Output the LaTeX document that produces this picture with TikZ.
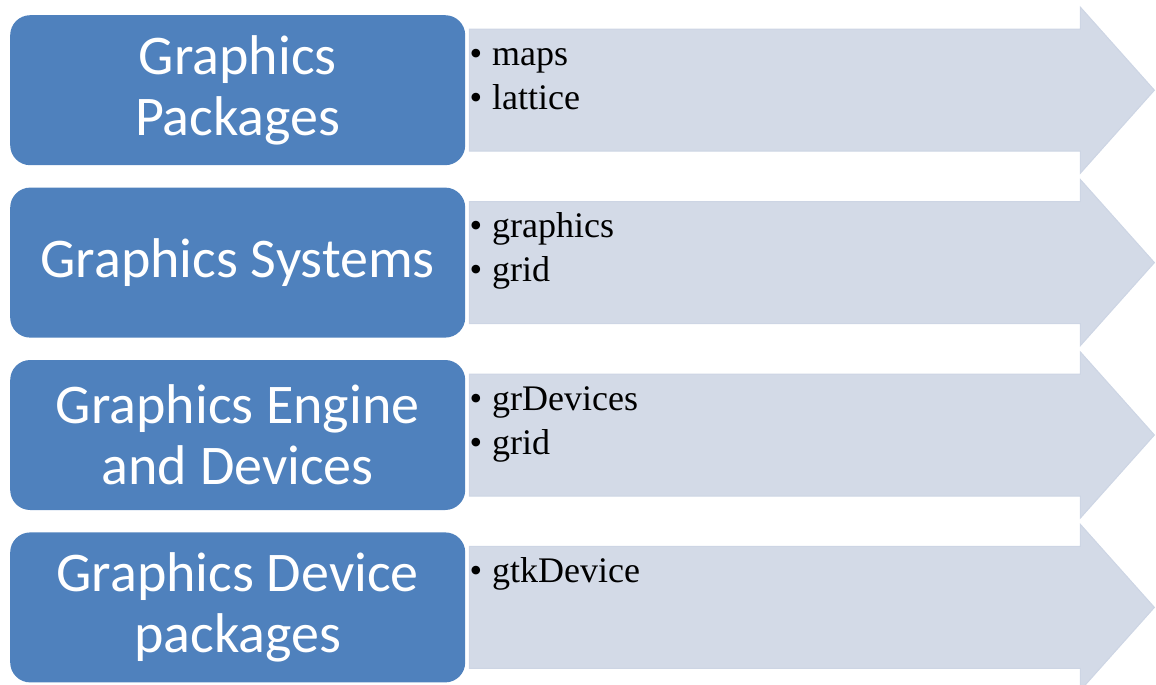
\documentclass[tikz,border=0pt]{standalone}
\usepackage{fontspec}
\setmainfont{Liberation Serif}
\newfontfamily\layerfont{Carlito}
\usetikzlibrary{positioning,calc}

\definecolor{layerblue}{HTML}{4F81BD}
\definecolor{arrowfill}{HTML}{D3DAE7}
\definecolor{arrowedge}{HTML}{CDD5E4}

\begin{document}
\begin{tikzpicture}[
x=1pt, y=1pt,
node distance=22pt,
layerbox/.style={fill=layerblue, rounded corners=20pt, align=center, minimum width=455pt, minimum height=150pt, inner sep=0pt, text=white, font=\layerfont\fontsize{56}{61}\selectfont},
listbox/.style={anchor=north west, align=left, inner sep=0pt, font=\fontsize{36}{44}\selectfont},
bigarrow/.style={fill=arrowfill, draw=arrowedge, line width=1pt, line join=miter}
]
\useasboundingbox (0,0) rectangle (1156,-685);

\node[layerbox, anchor=north west] (pkg) at (10,-15) {Graphics\\Packages};
\node[layerbox, below=of pkg] (sys) {Graphics Systems};
\node[layerbox, below=of sys] (eng) {Graphics Engine\\and Devices};
\node[layerbox, below=of eng] (dev) {Graphics Device\\packages};

% wide arrows to the right of each layer
\foreach \row in {pkg,sys,eng,dev}
  \draw[bigarrow] ($(\row.east)+(4,61)$) -- ($(\row.east)+(615,61)$) -- ($(\row.east)+(615,83)$)
    -- ($(\row.east)+(689,0)$) -- ($(\row.east)+(615,-83)$) -- ($(\row.east)+(615,-61)$)
    -- ($(\row.east)+(4,-61)$) -- cycle;

% package lists
\node[listbox] (pkglist) at ($(pkg.east)+(4,56)$) {\strut\textbullet\hspace{10pt}maps\\\strut\textbullet\hspace{10pt}lattice};
\node[listbox] (syslist) at ($(sys.east)+(4,56)$) {\strut\textbullet\hspace{10pt}graphics\\\strut\textbullet\hspace{10pt}grid};
\node[listbox] (englist) at ($(eng.east)+(4,56)$) {\strut\textbullet\hspace{10pt}grDevices\\\strut\textbullet\hspace{10pt}grid};
\node[listbox] (devlist) at ($(dev.east)+(4,56)$) {\strut\textbullet\hspace{10pt}gtkDevice};
\end{tikzpicture}
\end{document}
